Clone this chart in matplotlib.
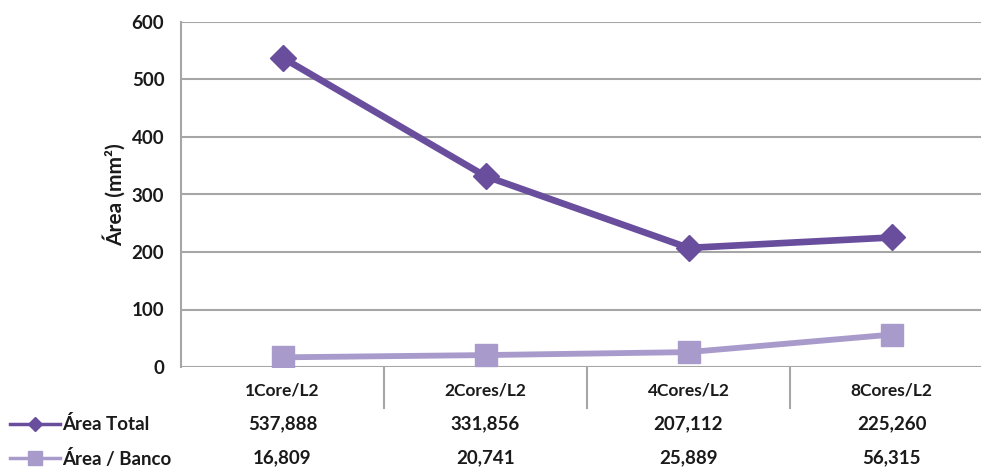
import matplotlib
matplotlib.use("Agg")
import matplotlib.pyplot as plt
import matplotlib.transforms as mtransforms
from matplotlib.lines import Line2D

categories = ["1Core/L2", "2Cores/L2", "4Cores/L2", "8Cores/L2"]
area_total = [537.888, 331.856, 207.112, 225.260]
area_banco = [16.809, 20.741, 25.889, 56.315]
total_labels = ["537,888", "331,856", "207,112", "225,260"]
banco_labels = ["16,809", "20,741", "25,889", "56,315"]
series_names = ["Área Total", "Área / Banco"]
y_ticks = [0, 100, 200, 300, 400, 500, 600]

plt.rcParams['font.family'] = ['Lato', 'DejaVu Sans']

dark = "#6A4E9E"
light = "#A89BCB"
grid_c = "#A6A6A6"
txt = "#1a1a1a"

W, H = 981, 475
fig = plt.figure(figsize=(W / 100, H / 100), dpi=100)
left, right, bottom, top = 181, 993, 367, 22
ax = fig.add_axes([left / W, 1 - bottom / H, (right - left) / W, (bottom - top) / H])

x = list(range(len(categories)))
ax.plot(x, area_total, color=dark, lw=4.8, marker="D", ms=13, mfc=dark, mec=dark,
        solid_joinstyle="round", zorder=3)
ax.plot(x, area_banco, color=light, lw=4.2, marker="s", ms=16, mfc=light, mec=light,
        zorder=3)

ax.set_xlim(-0.5, len(categories) - 0.5)
ax.set_ylim(0, 600)
ax.set_yticks(y_ticks)
ax.set_yticklabels([str(v) for v in y_ticks], fontsize=13.5, fontweight="bold", color=txt)
ax.tick_params(axis="y", length=0, pad=12)
ax.set_xticks([])
ax.grid(axis="y", color=grid_c, lw=1.5)
ax.set_axisbelow(True)
for s in ["top", "right", "bottom"]:
    ax.spines[s].set_visible(False)
ax.spines["left"].set_color(grid_c)
ax.spines["left"].set_linewidth(1.5)
ax.set_ylabel("Área (mm²)", fontsize=15, fontweight="bold", labelpad=4, color=txt)

# data table
trans = mtransforms.blended_transform_factory(ax.transData, fig.transFigure)
def fy(py):
    return 1 - py / H

for b in [0.5, 1.5, 2.5]:
    ax.add_line(Line2D([b, b], [fy(367), fy(408)], transform=trans, color=grid_c,
                       lw=1.5, clip_on=False))

for i, cat in enumerate(categories):
    ax.text(i, fy(390), cat, transform=trans, ha="center", va="center", fontsize=12.5,
            fontweight="bold", color=txt)
    ax.text(i, fy(424), total_labels[i], transform=trans, ha="center", va="center",
            fontsize=13.5, fontweight="bold", color=txt)
    ax.text(i, fy(458), banco_labels[i], transform=trans, ha="center", va="center",
            fontsize=13.5, fontweight="bold", color=txt)

# legend keys
for py, col, mk, ms, name in [(424, dark, "D", 7, series_names[0]),
                              (458, light, "s", 10, series_names[1])]:
    fig.add_artist(Line2D([10 / W, 60 / W], [fy(py), fy(py)], color=col, lw=2.5))
    fig.add_artist(Line2D([35 / W], [fy(py)], color=col, marker=mk, ms=ms, mfc=col, mec=col))
    fig.text(62 / W, fy(py), name, ha="left", va="center", fontsize=13.5,
             fontweight="bold", color=txt)

fig.savefig("out.png", dpi=100)
